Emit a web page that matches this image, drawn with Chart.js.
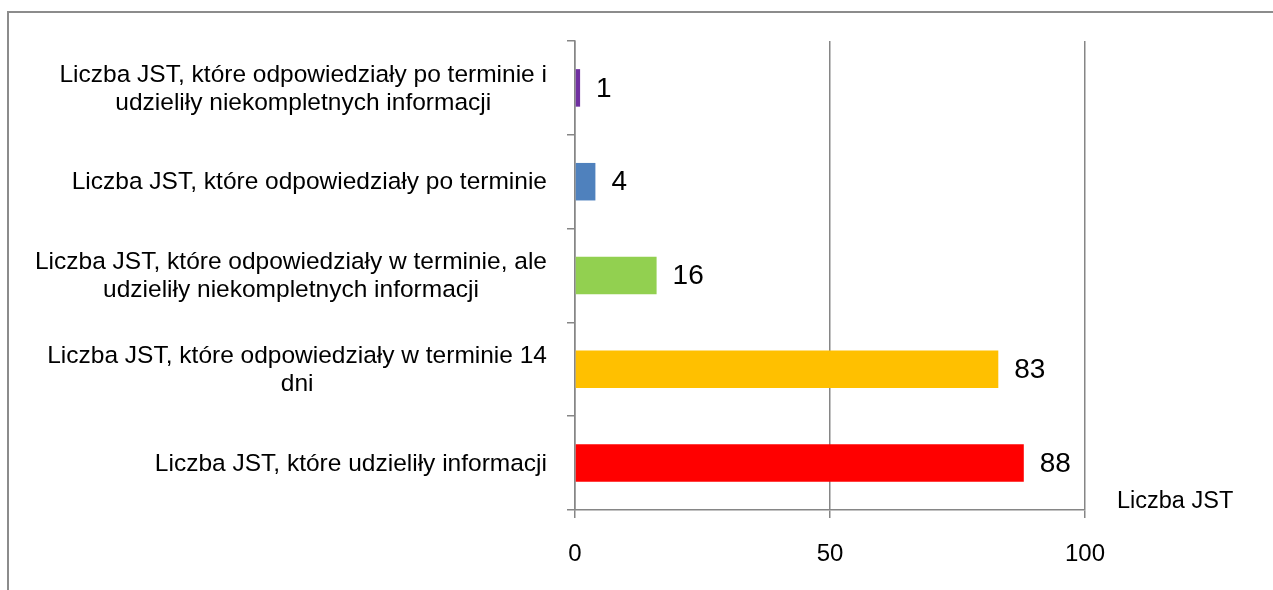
<!DOCTYPE html>
<html lang="pl">
<head>
<meta charset="UTF-8">
<title>Liczba JST</title>
<script src="https://cdn.jsdelivr.net/npm/chart.js"></script>
<style>
    body { margin: 0; padding: 0; background: #ffffff; }
    #wrap { position: relative; width: 1273px; height: 590px; overflow: hidden; }
    /* ramka wykresu - widoczna tylko lewa i gorna krawedz */
    #frame { position: absolute; left: 7px; top: 11px; width: 1300px; height: 620px;
             border-left: 2px solid #8c8c8c; border-top: 2px solid #8c8c8c; }
    canvas { position: absolute; left: 0; top: 0; }
</style>
</head>
<body>
<div id="wrap">
    <div id="frame"></div>
    <canvas id="chart" width="1273" height="590"></canvas>
</div>
<script>
const categories = [
    ['Liczba JST, które odpowiedziały po terminie i', 'udzieliły niekompletnych informacji'],
    ['Liczba JST, które odpowiedziały po terminie'],
    ['Liczba JST, które odpowiedziały w terminie, ale', 'udzieliły niekompletnych informacji'],
    ['Liczba JST, które odpowiedziały w terminie 14', 'dni'],
    ['Liczba JST, które udzieliły informacji']
];
const values = [1, 4, 16, 83, 88];
const barColors = ['#7030A0', '#4F81BD', '#92D050', '#FFC000', '#FF0000'];
const xTicks = [0, 50, 100];
const axisTitle = 'Liczba JST';

const FONT = "'Liberation Sans', Arial, sans-serif";
const AXIS = '#868686';

// etykiety kategorii: blok wyrownany do prawej, linie wysrodkowane
const labelsPlugin = {
    id: 'labelsPlugin',
    afterDatasetsDraw(chart) {
        const ctx = chart.ctx;
        const y = chart.scales.y;
        const area = chart.chartArea;
        ctx.save();
        ctx.fillStyle = '#000000';
        ctx.textBaseline = 'middle';

        ctx.font = '24.5px ' + FONT;
        const lineH = 28;
        const right = y.right - 8 - 20;
        categories.forEach((lines, i) => {
            const cy = y.getPixelForTick(i) + 1;
            const w = Math.max(...lines.map(l => ctx.measureText(l).width));
            ctx.textAlign = 'center';
            lines.forEach((l, j) => {
                ctx.fillText(l, right - w / 2, cy + (j - (lines.length - 1) / 2) * lineH);
            });
        });

        // wartosci przy slupkach
        ctx.font = '28px ' + FONT;
        ctx.textAlign = 'left';
        const meta = chart.getDatasetMeta(0);
        meta.data.forEach((bar, i) => {
            ctx.fillText(String(values[i]), bar.x + 16, bar.y + 1);
        });

        // tytul osi
        ctx.font = '23.5px ' + FONT;
        ctx.fillText(axisTitle, area.right + 32, area.bottom - 8);
        ctx.restore();
    }
};

new Chart(document.getElementById('chart'), {
    type: 'bar',
    data: {
        labels: categories,
        datasets: [{
            data: values,
            backgroundColor: barColors,
            borderWidth: 0,
            barPercentage: 0.4,
            categoryPercentage: 1
        }]
    },
    options: {
        indexAxis: 'y',
        responsive: false,
        animation: false,
        events: [],
        layout: { padding: { top: 41, right: 188, left: 0, bottom: 0 } },
        plugins: { legend: { display: false }, tooltip: { enabled: false } },
        scales: {
            x: {
                min: 0, max: 100,
                afterBuildTicks: s => { s.ticks = xTicks.map(v => ({ value: v })); },
                afterFit: s => { s.height = 80; },
                ticks: { color: '#000000', font: { family: FONT, size: 24 }, padding: 22 },
                grid: { color: AXIS, lineWidth: 1.5, tickLength: 8 },
                border: { color: AXIS, width: 1.5 }
            },
            y: {
                afterFit: s => { s.width = 575; },
                ticks: { display: false },
                grid: { drawOnChartArea: false, color: AXIS, lineWidth: 1.5, tickLength: 8 },
                border: { color: AXIS, width: 1.5 }
            }
        }
    },
    plugins: [labelsPlugin]
});
</script>
</body>
</html>
